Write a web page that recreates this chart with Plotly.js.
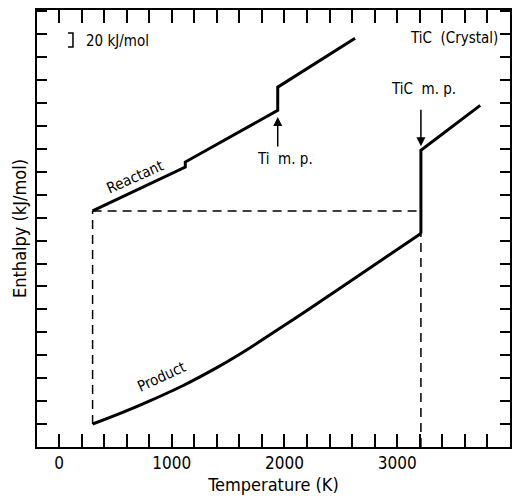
<!DOCTYPE html>
<html>
<head>
<meta charset="utf-8">
<script src="https://cdn.plot.ly/plotly-3.0.1.min.js"></script>
<style>html,body{margin:0;padding:0;background:#fff;}#chart{width:529px;height:499px;}</style>
</head>
<body>
<div id="chart"></div>
<script>
// ---- data (Temperature in K, enthalpy in kJ/mol, arbitrary zero) ----
const reactantT = [298, 1120, 1120, 1940, 1940, 2626];
const reactantH = [337.6, 400.4, 407.6, 481.4, 514.7, 584.7];
const productSolidT = [298, 800, 1400, 2000, 2600, 3210];
const productSolidH = [32.9, 65.5, 113.5, 174, 239, 305.3];
const productLiquidT = [3210, 3210, 3736];
const productLiquidH = [305.3, 424.3, 488.6];
const roomT = 298;
const ticMeltT = 3210;
const tiMeltT = 1940;
const scaleBarKJ = 20;
const xTickVals = [0, 1000, 2000, 3000, 4000];
const xTickText = ['0', '1000', '2000', '3000', '4000'];

const FONT = 'DejaVu Sans Condensed, Liberation Sans Narrow, DejaVu Sans, sans-serif';
const startH = reactantH[0];

const solid = {color: '#000', width: 3};
const dashed = {color: '#000', width: 1.5, dash: '9px,6px'};

const traces = [
  {x: [roomT, roomT], y: [productSolidH[0], startH], mode: 'lines', line: dashed, hoverinfo: 'skip'},
  {x: [roomT, ticMeltT], y: [startH, startH], mode: 'lines', line: dashed, hoverinfo: 'skip'},
  {x: [ticMeltT, ticMeltT], y: [0, startH], mode: 'lines', line: dashed, hoverinfo: 'skip'},
  {x: reactantT, y: reactantH, mode: 'lines', line: solid, name: 'Reactant'},
  {x: productSolidT, y: productSolidH, mode: 'lines', line: {color: '#000', width: 3, shape: 'spline', smoothing: 1.3}, name: 'Product'},
  {x: productLiquidT, y: productLiquidH, mode: 'lines', line: solid, name: 'Product (liquid)'}
];

const axFont = {family: FONT, size: 17, color: '#000'};
const annFont = {family: FONT, size: 15, color: '#000'};

const layout = {
  width: 529, height: 499,
  margin: {l: 37, r: 19, t: 10, b: 52},
  paper_bgcolor: '#fff', plot_bgcolor: '#fff',
  showlegend: false,
  font: {family: FONT, color: '#000'},
  xaxis: {
    range: [-195, 4000],
    tickmode: 'array', tickvals: xTickVals, ticktext: xTickText,
    ticks: 'inside', ticklen: 13, tickwidth: 2, tickcolor: '#000',
    minor: {dtick: 200, tick0: 0, ticks: 'inside', ticklen: 13, tickwidth: 2, tickcolor: '#000', showgrid: false},
    showline: true, linewidth: 2, linecolor: '#000', mirror: 'ticks',
    showgrid: false, zeroline: false,
    tickfont: axFont,
    title: {text: 'Temperature (K)', font: {family: FONT, size: 18, color: '#000'}, standoff: 6}
  },
  yaxis: {
    range: [0, 625],
    tick0: 0, dtick: 32.8,
    ticks: 'inside', ticklen: 10, tickwidth: 2, tickcolor: '#000',
    showticklabels: false,
    showline: true, linewidth: 2, linecolor: '#000', mirror: 'ticks',
    showgrid: false, zeroline: false,
    title: {text: 'Enthalpy (kJ/mol)', font: {family: FONT, size: 18, color: '#000'}, standoff: 4}
  },
  shapes: [
    {type: 'path', xref: 'x', yref: 'y',
     path: `M 80 592 L 124 592 L 124 ${592 - scaleBarKJ} L 80 ${592 - scaleBarKJ}`,
     line: {color: '#000', width: 1.5}}
  ],
  annotations: [
    {x: 222, y: 581, xref: 'x', yref: 'y', text: scaleBarKJ + ' kJ/mol', showarrow: false, xanchor: 'left', yanchor: 'middle', font: annFont},
    {x: 3911, y: 585, xref: 'x', yref: 'y', text: 'TiC\u00a0 (Crystal)', showarrow: false, xanchor: 'right', yanchor: 'middle', font: annFont},
    {x: 3237, y: 512, xref: 'x', yref: 'y', text: 'TiC\u00a0 m. p.', showarrow: false, xanchor: 'center', yanchor: 'middle', font: annFont},
    {x: ticMeltT, y: 430, xref: 'x', yref: 'y', text: '', showarrow: true, ax: 0, ay: -38, arrowhead: 2, arrowsize: 1.2, arrowwidth: 1.5, arrowcolor: '#000'},
    {x: 2004, y: 412, xref: 'x', yref: 'y', text: 'Ti\u00a0 m. p.', showarrow: false, xanchor: 'center', yanchor: 'middle', font: annFont},
    {x: tiMeltT, y: 472, xref: 'x', yref: 'y', text: '', showarrow: true, ax: 0, ay: 31, arrowhead: 2, arrowsize: 1.2, arrowwidth: 1.5, arrowcolor: '#000'},
    {x: 674, y: 386, xref: 'x', yref: 'y', text: 'Reactant', showarrow: false, textangle: -24, font: {family: FONT, size: 15, color: '#000'}},
    {x: 905, y: 100, xref: 'x', yref: 'y', text: 'Product', showarrow: false, textangle: -25, font: {family: FONT, size: 15, color: '#000'}}
  ]
};

Plotly.newPlot('chart', traces, layout, {staticPlot: true, displayModeBar: false});
</script>
</body>
</html>
